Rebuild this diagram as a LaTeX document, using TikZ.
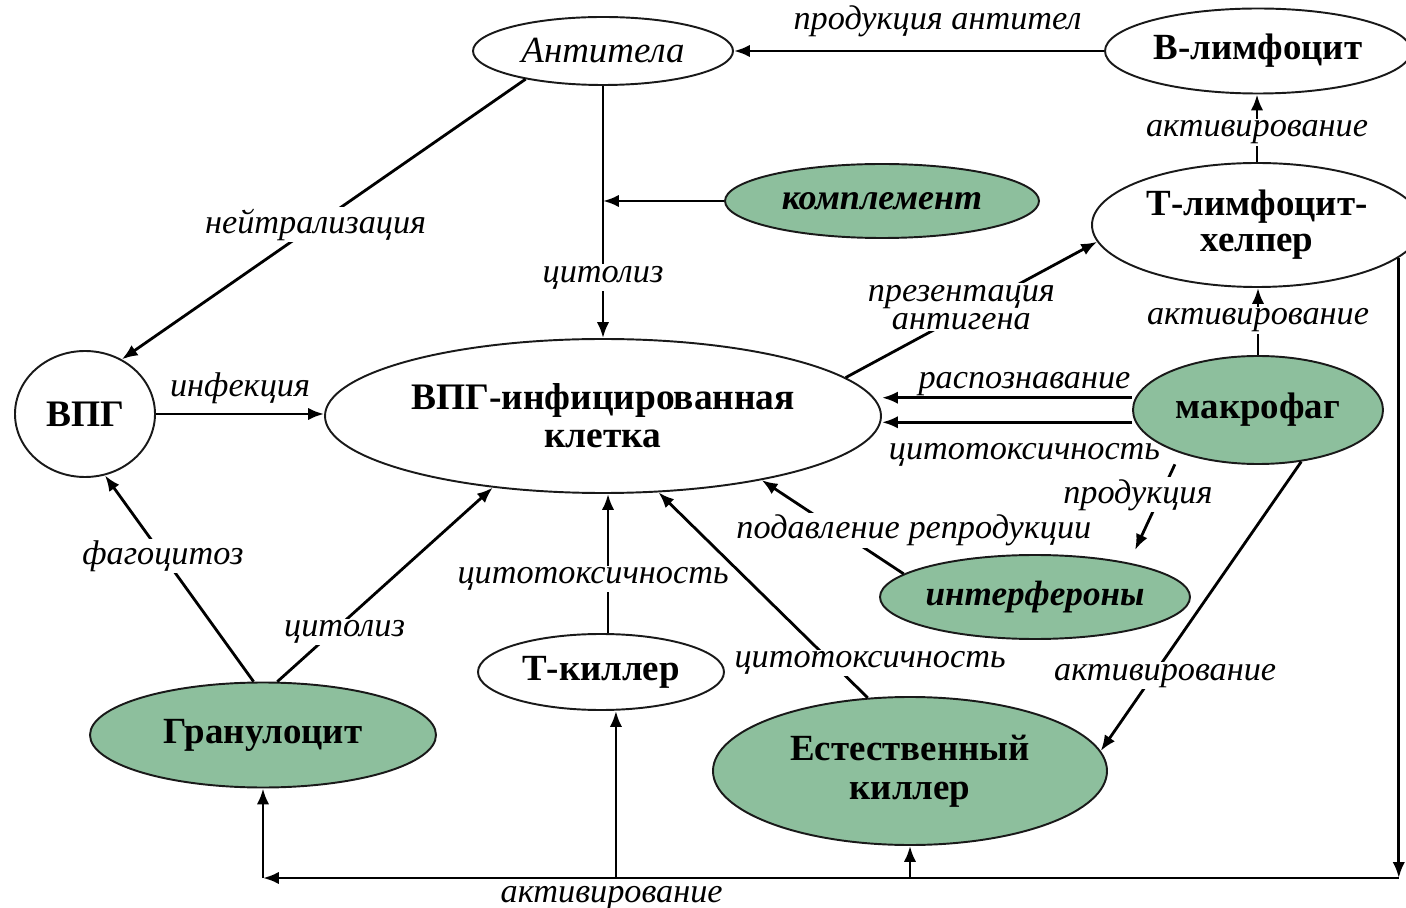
\documentclass[tikz,border=0pt]{standalone}
\usepackage{fontspec}
\setmainfont{Liberation Serif}
\usetikzlibrary{shapes.geometric,arrows.meta}
\definecolor{gr}{HTML}{8DBF9D}
\begin{document}
\begin{tikzpicture}[x=0.02cm,y=-0.02cm,
  every node/.style={inner sep=0pt},
  el/.style={ellipse,draw=black!90,line width=1.1pt,align=center,
    font=\bfseries\fontsize{21}{23}\selectfont},
  grn/.style={el,fill=gr},
  arr/.style={line width=1.6pt,-{Latex[length=9pt,width=7pt]}},
  lbl/.style={fill=white,inner sep=1pt,font=\itshape\fontsize{19.5}{19.5}\selectfont},
  txt/.style={inner sep=1pt,font=\itshape\fontsize{19.5}{19.5}\selectfont}
]
\useasboundingbox (0,0) rectangle (1406,908);
% nodes
\node[el,minimum width=260*0.02cm,minimum height=68*0.02cm,
  font=\itshape\fontsize{21}{23}\selectfont] (anti) at (603,51) {Антитела};
\node[el,minimum width=306*0.02cm,minimum height=85*0.02cm] (bl) at (1258,51) {В-лимфоцит};
\node[el,minimum width=330*0.02cm,minimum height=124*0.02cm,
  font=\bfseries\fontsize{21}{20.5}\selectfont] (th) at (1257,225) {Т-лимфоцит-\\хелпер};
\node[grn,minimum width=314*0.02cm,minimum height=74*0.02cm,
  font=\bfseries\itshape\fontsize{20.5}{22}\selectfont] (comp) at (882,201) {комплемент};
\node[el,minimum width=140*0.02cm,minimum height=126*0.02cm,
  font=\bfseries\fontsize{21.3}{23}\selectfont] (vpg) at (85,414) {ВПГ};
\node[el,minimum width=556*0.02cm,minimum height=154*0.02cm,
  font=\bfseries\fontsize{21.3}{21.5}\selectfont] (cell) at (603,416) {ВПГ-инфицированная\\клетка};
\node[grn,minimum width=250*0.02cm,minimum height=108*0.02cm] (mac) at (1258,410) {макрофаг};
\node[grn,minimum width=310*0.02cm,minimum height=84*0.02cm,
  font=\bfseries\itshape\fontsize{20}{22}\selectfont] (intf) at (1035,597) {интерфероны};
\node[el,minimum width=246*0.02cm,minimum height=76*0.02cm] (tk) at (601,672) {Т-киллер};
\node[grn,minimum width=346*0.02cm,minimum height=105*0.02cm] (gran) at (263,735) {Гранулоцит};
\node[grn,minimum width=394*0.02cm,minimum height=148*0.02cm,
  font=\bfseries\fontsize{21}{22.5}\selectfont] (ek) at (910,771) {Естественный\\киллер};
% connectors
\draw[arr] (bl.west) -- (anti.east) node[txt,pos=0.45,above=6pt] {продукция антител};
\draw[arr] (th.north) -- (th.north |- bl.south) node[lbl,pos=0.44] {активирование};
\draw[arr] (mac.north) -- (mac.north |- th.south) node[lbl,pos=0.52] {активирование};
\draw[arr] (anti.200) -- (vpg.56) node[lbl,pos=0.52] {нейтрализация};
\draw[arr] (anti.south) -- (cell.north) node[lbl,pos=0.76] {цитолиз};
\draw[arr] (comp.west) -- (comp.west -| anti.south);
\draw[arr] (vpg.east) -- (vpg.east -| cell.west) node[txt,midway,above=4pt] {инфекция};
\draw[arr] (cell.9) -- (th.186) node[lbl,pos=0.46,yshift=4.5pt,align=center,
  font=\itshape\fontsize{19.5}{16}\selectfont] {презентация\\антигена};
\draw[arr] ([yshift=7pt]mac.west) -- ([yshift=7pt]mac.west -| cell.east)
  node[txt,pos=0.43,above=-1pt] {распознавание};
\draw[arr] ([yshift=-7pt]mac.west) -- ([yshift=-7pt]mac.west -| cell.east)
  node[txt,pos=0.43,below=10pt] {цитотоксичность};
\draw[arr,shorten <=7pt,shorten >=8pt] (mac.209) -- (intf.20)
  node[lbl,pos=0.38,xshift=-13pt] {продукция};
\draw[arr] (intf.170) -- (cell.-22) node[lbl,pos=0.46,xshift=43pt] {подавление репродукции};
\draw[arr] (mac.-50) -- (ek.6) node[lbl,pos=0.74,xshift=7pt] {активирование};
\coordinate (tkt) at ([xshift=4pt]tk.north);
\draw[arr] (tkt) -- (tkt |- cell.south) node[lbl,pos=0.39,xshift=-8.5pt] {цитотоксичность};
\draw[arr] (ek.120) -- (cell.-54) node[lbl,pos=0.17,xshift=21.6pt] {цитотоксичность};
\draw[arr] (gran.100) -- (vpg.-72) node[lbl,pos=0.61] {фагоцитоз};
\draw[arr] (gran.75) -- (cell.213) node[lbl,pos=0.255,xshift=7pt] {цитолиз};
% bottom activation bus
\coordinate (bot) at (0,878);
\coordinate (tkb) at ([xshift=8.5pt]tk.south);
\draw[arr] (th.-13.8) -- (th.-13.8 |- bot);
\draw[arr] (th.-13.8 |- bot) -- (gran.south |- bot)
  node[txt,pos=0.693,below=3pt] {активирование};
\draw[arr] (gran.south |- bot) -- (gran.south);
\draw[arr] (tkb |- bot) -- (tkb);
\draw[arr] (ek.south |- bot) -- (ek.south);
\end{tikzpicture}
\end{document}
